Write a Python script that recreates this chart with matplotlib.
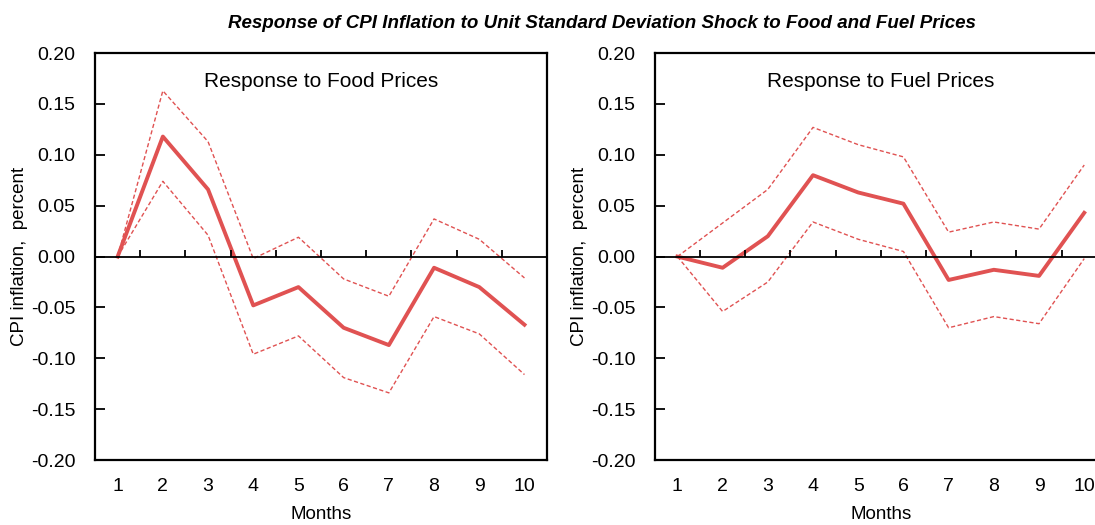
import matplotlib.pyplot as plt
import numpy as np
from matplotlib import font_manager

# fonte condensada se existir
names = {f.name for f in font_manager.fontManager.ttflist}
fam = 'Liberation Sans Narrow' if 'Liberation Sans Narrow' in names else 'Liberation Sans'
plt.rcParams['font.family'] = [fam, 'DejaVu Sans']

months = np.arange(1, 11)

food_mid = [0.0, 0.118, 0.066, -0.048, -0.030, -0.070, -0.087, -0.011, -0.030, -0.067]
food_up = [0.0, 0.163, 0.113, -0.002, 0.019, -0.022, -0.039, 0.037, 0.017, -0.021]
food_lo = [0.0, 0.074, 0.021, -0.096, -0.078, -0.119, -0.134, -0.059, -0.076, -0.116]

fuel_mid = [0.0, -0.011, 0.020, 0.080, 0.063, 0.052, -0.023, -0.013, -0.019, 0.043]
fuel_up = [0.0, 0.033, 0.066, 0.127, 0.110, 0.098, 0.024, 0.034, 0.027, 0.090]
fuel_lo = [0.0, -0.054, -0.025, 0.034, 0.017, 0.005, -0.070, -0.059, -0.066, -0.002]

yticks = [0.20, 0.15, 0.10, 0.05, 0.00, -0.05, -0.10, -0.15, -0.20]
red = '#E05252'

fig = plt.figure(figsize=(10.95, 5.25), dpi=100)
ax1 = fig.add_axes([0.0868, 0.1238, 0.4128, 0.775])
ax2 = fig.add_axes([0.598, 0.1238, 0.4128, 0.775])

panels = [(ax1, food_mid, food_up, food_lo, 'Response to Food Prices'),
          (ax2, fuel_mid, fuel_up, fuel_lo, 'Response to Fuel Prices')]

for ax, mid, up, lo, ttl in panels:
    ax.plot(months, up, color=red, lw=1.0, ls=(0, (3, 1.8)))
    ax.plot(months, lo, color=red, lw=1.0, ls=(0, (3, 1.8)))
    ax.plot(months, mid, color=red, lw=2.8)
    ax.axhline(0, color='black', lw=1.3)
    # marcas entre categorias no eixo zero
    ax.vlines(months[:-1] + 0.5, 0, 0.006, color='black', lw=1.3)
    ax.set_xlim(0.5, 10.5)
    ax.set_ylim(-0.2, 0.2)
    ax.set_yticks(yticks)
    ax.set_yticklabels(['%.2f' % v for v in yticks], fontsize=14)
    ax.set_xticks(months)
    ax.set_xticklabels([str(m) for m in months], fontsize=14)
    ax.tick_params(axis='x', length=0, pad=13)
    ax.tick_params(axis='y', direction='in', length=7, width=1.3, pad=14)
    for s in ax.spines.values():
        s.set_linewidth(1.6)
    ax.set_xlabel('Months', fontsize=13.5, labelpad=8)
    ax.set_ylabel('CPI inflation,  percent', fontsize=13.5, labelpad=2)
    ax.text(0.5, 0.93, ttl, transform=ax.transAxes, ha='center', va='center', fontsize=15)

fig.text(0.55, 0.955, 'Response of CPI Inflation to Unit Standard Deviation Shock to Food and Fuel Prices',
         ha='center', va='center', fontsize=13.5, fontweight='bold', style='italic')

plt.savefig('out.png', dpi=100)
